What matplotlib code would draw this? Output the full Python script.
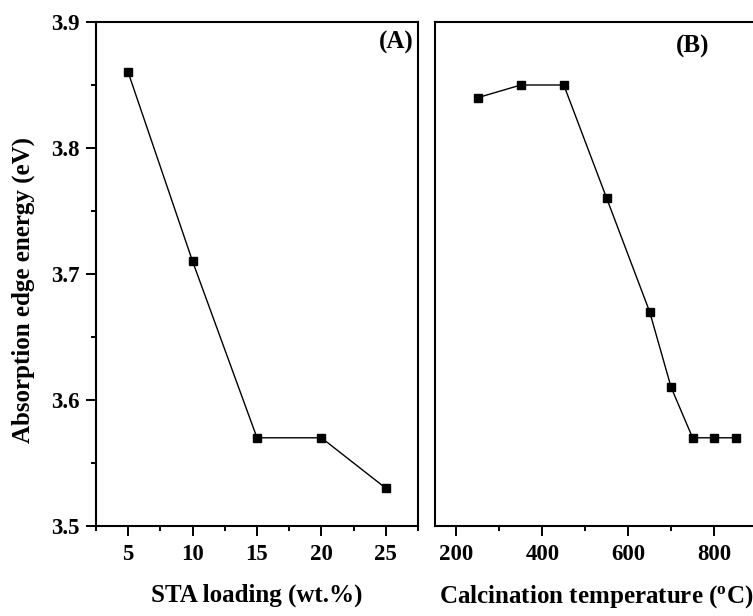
import matplotlib
matplotlib.use("Agg")
import matplotlib.pyplot as plt
from matplotlib.ticker import MultipleLocator

plt.rcParams["font.family"] = ["Liberation Serif", "DejaVu Serif"]
plt.rcParams["font.weight"] = "bold"
plt.rcParams["mathtext.fontset"] = "custom"
plt.rcParams["mathtext.rm"] = "Liberation Serif:bold"
plt.rcParams["mathtext.bf"] = "Liberation Serif:bold"

# (A) absorption edge energy vs STA loading
sta_loading = [5, 10, 15, 20, 25]
edge_energy_a = [3.86, 3.71, 3.57, 3.57, 3.53]

# (B) absorption edge energy vs calcination temperature
calc_temp = [250, 350, 450, 550, 650, 700, 750, 800, 850]
edge_energy_b = [3.84, 3.85, 3.85, 3.76, 3.67, 3.61, 3.57, 3.57, 3.57]

W, H = 753, 616
fig = plt.figure(figsize=(W / 100, H / 100), dpi=100)

def px_axes(x0, x1, y0, y1):
    return fig.add_axes([x0 / W, 1 - y1 / H, (x1 - x0) / W, (y1 - y0) / H])

ax_a = px_axes(96, 418, 22, 526)
ax_b = px_axes(435, 757, 22, 526)

for ax in (ax_a, ax_b):
    for s in ax.spines.values():
        s.set_linewidth(1.5)
    ax.tick_params(which="major", direction="out", length=7, width=1.4,
                   labelsize=16.5)
    ax.tick_params(axis="x", which="major", pad=6)
    ax.tick_params(axis="y", which="major", pad=5)
    ax.tick_params(which="minor", direction="out", length=3.5, width=1.4)
    ax.set_ylim(3.5, 3.9)

ax_a.plot(sta_loading, edge_energy_a, color="black", lw=1.0, marker="s",
          markersize=6, markerfacecolor="black", markeredgecolor="black")
ax_a.set_xlim(2.5, 27.5)
ax_a.xaxis.set_major_locator(MultipleLocator(5))
ax_a.xaxis.set_minor_locator(MultipleLocator(2.5))
ax_a.yaxis.set_major_locator(MultipleLocator(0.1))
ax_a.yaxis.set_minor_locator(MultipleLocator(0.05))
ax_a.set_yticklabels([f"{v:.1f}" for v in ax_a.get_yticks()])
ax_a.set_xlabel("STA loading (wt.%)", fontsize=18, fontweight="bold", labelpad=13)
ax_a.set_ylabel("Absorption edge energy (eV)", fontsize=18, fontweight="bold")
ax_a.yaxis.set_label_coords(-0.19, 0.468)
ax_a.text(0.985, 0.982, "(A)", transform=ax_a.transAxes, ha="right", va="top",
          fontsize=18, fontweight="bold")

ax_b.plot(calc_temp, edge_energy_b, color="black", lw=1.0, marker="s",
          markersize=6, markerfacecolor="black", markeredgecolor="black")
ax_b.set_xlim(150, 900)
ax_b.xaxis.set_major_locator(MultipleLocator(200))
ax_b.xaxis.set_minor_locator(MultipleLocator(100))
ax_b.set_xticks([200, 400, 600, 800])
ax_b.yaxis.set_major_locator(MultipleLocator(0.1))
ax_b.tick_params(axis="y", which="both", left=False, labelleft=False)
ax_b.set_xlabel(r"Calcination temperature ($\mathrm{^{o}}$C)", fontsize=18,
                fontweight="bold", labelpad=13)
ax_b.text(712, 3.89, "(B)", ha="left", va="top", fontsize=18, fontweight="bold")

fig.savefig("out.png", dpi=100)
